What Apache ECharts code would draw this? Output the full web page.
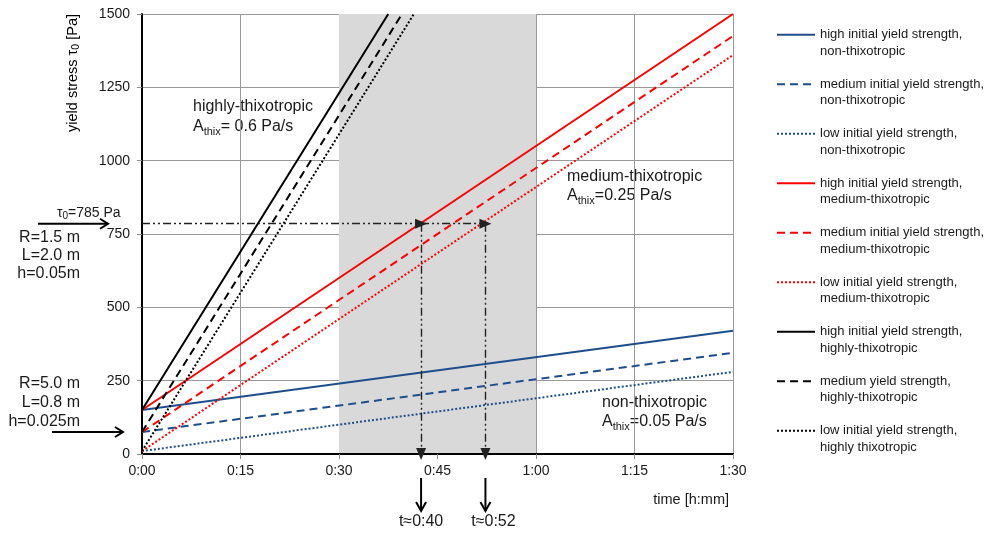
<!DOCTYPE html>
<html><head><meta charset="utf-8">
<script src="https://cdn.jsdelivr.net/npm/echarts@6/dist/echarts.min.js"></script>
<style>html,body{margin:0;padding:0;background:#fff}#c{width:991px;height:533px}</style>
</head><body><div id="c"></div>
<script>
// ---- data ----
const xTickMinutes = [0, 15, 30, 45, 60, 75, 90];
const xTickLabels = ['0:00', '0:15', '0:30', '0:45', '1:00', '1:15', '1:30'];
const yTickValues = [0, 250, 500, 750, 1000, 1250, 1500];

const seriesNames = [
  'high initial yield strength,\nnon-thixotropic',
  'medium initial yield strength,\nnon-thixotropic',
  'low initial yield strength,\nnon-thixotropic',
  'high initial yield strength,\nmedium-thixotropic',
  'medium initial yield strength,\nmedium-thixotropic',
  'low initial yield strength,\nmedium-thixotropic',
  'high initial yield strength,\nhighly-thixotropic',
  'medium yield strength,\nhighly-thixotropic',
  'low initial yield strength,\nhighly thixotropic'
];
// [time in minutes, yield stress in Pa]
const highNon = [[0, 150], [90, 420]];
const medNon = [[0, 75], [90, 345]];
const lowNon = [[0, 10], [90, 280]];
const highMed = [[0, 150], [90, 1500]];
const medMed = [[0, 75], [90, 1425]];
const lowMed = [[0, 10], [90, 1360]];
const highHigh = [[0, 150], [37.5, 1500]];
const medHigh = [[0, 75], [39.6, 1500]];
const lowHigh = [[0, 10], [41.4, 1500]];

const shadedRange = [30, 60];
const tauCritical = 785;
const crossingTimes = [42.5, 52.3];
const crossingLabels = ['t≈0:40', 't≈0:52'];
const leftArrowLevels = [785, 75];

// ---- styles ----
const FONT = '"Liberation Sans", Arial, sans-serif';
const TXT = '#1a1a1a';
const BLUE = '#1f4e8c', RED = '#ff0000', BLACK = '#000000';
const SOLID = 'solid', DASH = [8, 5], DOT = [2, 2];

const seriesData = [highNon, medNon, lowNon, highMed, medMed, lowMed, highHigh, medHigh, lowHigh];
const seriesColors = [BLUE, BLUE, BLUE, RED, RED, RED, BLACK, BLACK, BLACK];
const seriesDash = [SOLID, DASH, DOT, SOLID, DASH, DOT, SOLID, DASH, DOT];

const chart = echarts.init(document.getElementById('c'), null, {renderer: 'canvas'});

const lineSeries = seriesData.map((d, i) => ({
  name: seriesNames[i],
  type: 'line',
  data: d,
  symbol: 'none',
  z: 3,
  silent: true,
  lineStyle: {color: seriesColors[i], width: 2, type: seriesDash[i]},
  itemStyle: {color: seriesColors[i]}
}));

const dashDot = [8, 3, 2, 3, 2, 3];
const annotationSeries = {
  type: 'line', data: [], z: 4, silent: true,
  markLine: {
    silent: true,
    symbol: ['none', 'triangle'],
    symbolSize: [10, 12],
    label: {show: false},
    lineStyle: {color: '#222', width: 1.4, type: dashDot},
    data: [
      [{coord: [0, tauCritical]}, {coord: [crossingTimes[0], tauCritical]}],
      [{coord: [crossingTimes[0], tauCritical]}, {coord: [crossingTimes[1], tauCritical]}],
      [{coord: [crossingTimes[0], tauCritical]}, {coord: [crossingTimes[0], 0]}],
      [{coord: [crossingTimes[1], tauCritical]}, {coord: [crossingTimes[1], 0]}]
    ]
  }
};

const shadeSeries = {
  type: 'line', data: [], z: 0, silent: true,
  markArea: {
    silent: true,
    itemStyle: {color: '#d9d9d9'},
    data: [[{xAxis: shadedRange[0]}, {xAxis: shadedRange[1]}]]
  }
};

chart.setOption({
  animation: false,
  textStyle: {fontFamily: FONT},
  grid: {left: 142, right: 258, top: 14, bottom: 79},
  legend: {
    orient: 'vertical', left: 776, top: 10, padding: 0, itemGap: 0,
    itemWidth: 38, itemHeight: 14,
    data: seriesNames,
    selectedMode: false,
    itemStyle: {opacity: 0, color: 'transparent', borderWidth: 0},
    formatter: name => ' \n' + name,
    textStyle: {fontSize: 13, lineHeight: 16.5, color: TXT, fontFamily: FONT}
  },
  xAxis: [{
    type: 'value', min: 0, max: 90, interval: 15, z: 1,
    axisLine: {show: true, onZero: false, lineStyle: {color: '#000', width: 2}},
    axisTick: {show: true, length: 5, lineStyle: {color: '#8c8c8c'}},
    axisLabel: {fontSize: 14, color: TXT, margin: 10, fontFamily: FONT,
      formatter: v => xTickLabels[xTickMinutes.indexOf(v)]},
    splitLine: {show: true, lineStyle: {color: '#9a9a9a', width: 1}}
  }, {
    type: 'value', position: 'top', min: 0, max: 90, z: 1,
    axisLine: {show: true, lineStyle: {color: '#000', width: 1.5}},
    axisTick: {show: false}, axisLabel: {show: false}, splitLine: {show: false}
  }],
  yAxis: {
    type: 'value', min: 0, max: 1500, interval: 250, z: 1,
    axisLine: {show: true, lineStyle: {color: '#000', width: 2}},
    axisTick: {show: true, length: 5, lineStyle: {color: '#8c8c8c'}},
    axisLabel: {fontSize: 14, color: TXT, margin: 12, fontFamily: FONT,
      formatter: v => (yTickValues.indexOf(v) >= 0 ? String(v) : '')},
    splitLine: {show: true, lineStyle: {color: '#9a9a9a', width: 1}}
  },
  series: [shadeSeries].concat(lineSeries, [annotationSeries])
});

// ---- annotations positioned through the axes ----
const px = (t, v) => chart.convertToPixel({xAxisIndex: 0, yAxisIndex: 0}, [t, v]);
const origin = px(0, 0);
const rich = {
  n: {fontSize: 16, lineHeight: 20, color: TXT, fontFamily: FONT},
  s: {fontSize: 11, lineHeight: 20, color: TXT, fontFamily: FONT, verticalAlign: 'bottom', padding: [6, 0, 0, 0]},
  ns: {fontSize: 14, lineHeight: 17, color: TXT, fontFamily: FONT},
  ss: {fontSize: 10, lineHeight: 17, color: TXT, fontFamily: FONT, verticalAlign: 'bottom', padding: [5, 0, 0, 0]},
  ny: {fontSize: 14.5, lineHeight: 18, color: TXT, fontFamily: FONT},
  sy: {fontSize: 10.5, lineHeight: 18, color: TXT, fontFamily: FONT, verticalAlign: 'bottom', padding: [6, 0, 0, 0]}
};
function txt(x, y, text, align) {
  return {
    type: 'text', x: x, y: y, silent: true,
    style: {text: text, rich: rich, align: align || 'left', verticalAlign: 'middle', fill: TXT, font: '16px ' + FONT}
  };
}
function arrowRight(x1, x2, y) {
  return [
    {type: 'line', silent: true, shape: {x1: x1, y1: y, x2: x2, y2: y}, style: {stroke: '#000', lineWidth: 2}},
    {type: 'polyline', silent: true, shape: {points: [[x2 - 8, y - 5], [x2, y], [x2 - 8, y + 5]]}, style: {stroke: '#000', lineWidth: 2, fill: null}}
  ];
}
function arrowDown(x, y1, y2) {
  return [
    {type: 'line', silent: true, shape: {x1: x, y1: y1, x2: x, y2: y2}, style: {stroke: '#000', lineWidth: 2}},
    {type: 'polyline', silent: true, shape: {points: [[x - 5, y2 - 9], [x, y2], [x + 5, y2 - 9]]}, style: {stroke: '#000', lineWidth: 2, fill: null}}
  ];
}

const gfx = [];
// y axis name
gfx.push({
  type: 'text', x: 73, y: 73, rotation: Math.PI / 2, silent: true,
  style: {text: '{ny|yield stress τ}{sy|0}{ny| [Pa]}', rich: rich, align: 'center', verticalAlign: 'middle'}
});
// x axis name
gfx.push({type: 'text', x: 729, y: 500, silent: true,
  style: {text: 'time [h:mm]', align: 'right', verticalAlign: 'middle', fill: TXT, font: '14.5px ' + FONT}});

// region labels
gfx.push(txt(193, 107, '{n|highly-thixotropic}'));
gfx.push(txt(193, 127, '{n|A}{s|thix}{n|= 0.6 Pa/s}'));
gfx.push(txt(567, 177, '{n|medium-thixotropic}'));
gfx.push(txt(567, 196, '{n|A}{s|thix}{n|=0.25 Pa/s}'));
gfx.push(txt(602, 403, '{n|non-thixotropic}'));
gfx.push(txt(602, 422, '{n|A}{s|thix}{n|=0.05 Pa/s}'));

// left side arrows and parameter text
const yA = px(0, leftArrowLevels[0])[1];
const yB = px(0, leftArrowLevels[1])[1];
gfx.push(txt(57, yA - 11, '{ns|τ}{ss|0}{ns|=785 Pa}'));
gfx.push.apply(gfx, arrowRight(38, 108, yA));
['R=1.5 m', 'L=2.0 m', 'h=0.05m'].forEach((s, i) => gfx.push(txt(80, 238 + i * 18, '{n|' + s + '}', 'right')));
['R=5.0 m', 'L=0.8 m', 'h=0.025m'].forEach((s, i) => gfx.push(txt(80, 384 + i * 19, '{n|' + s + '}', 'right')));
gfx.push.apply(gfx, arrowRight(52, 123, yB));

// down arrows under the x axis
crossingTimes.forEach((t, i) => {
  const x = px(t, 0)[0];
  gfx.push.apply(gfx, arrowDown(x, origin[1] + 24, origin[1] + 57));
  gfx.push(txt(i === 0 ? x : x + 8, origin[1] + 68, '{n|' + crossingLabels[i] + '}', 'center'));
});

chart.setOption({graphic: {elements: gfx}});
</script>
</body></html>
